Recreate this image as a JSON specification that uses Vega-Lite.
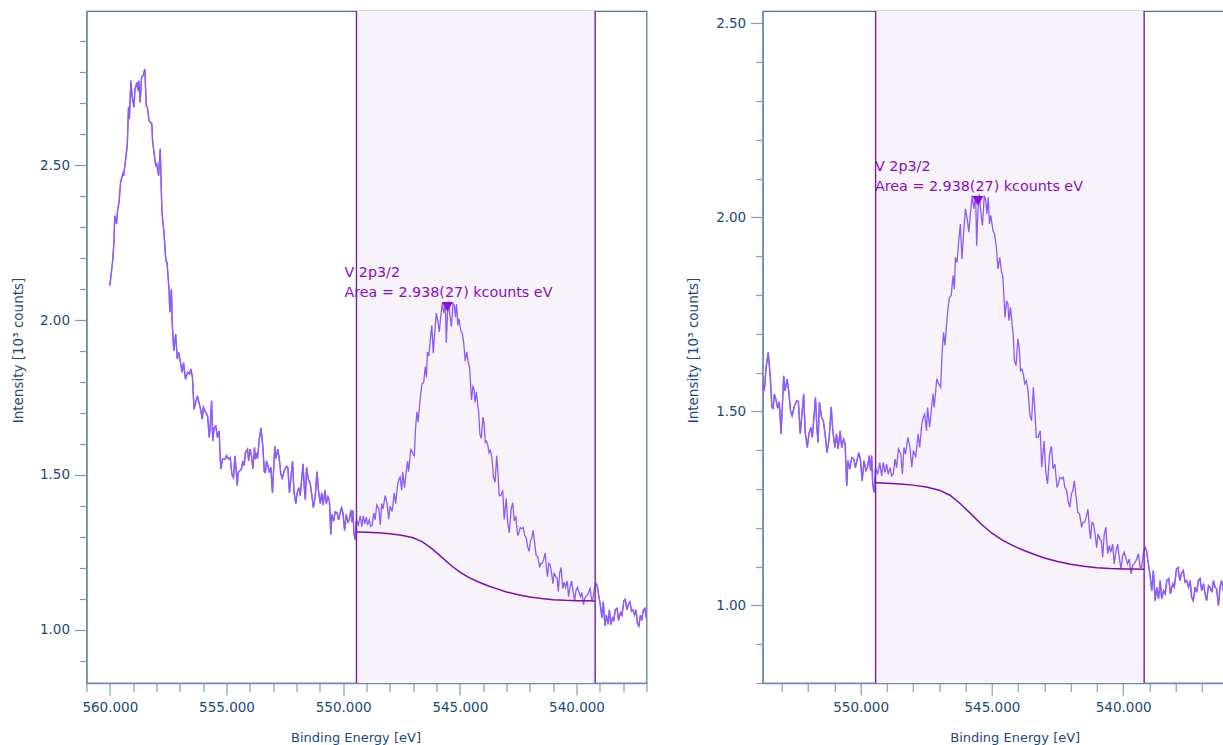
{
  "$schema": "https://vega.github.io/schema/vega-lite/v6.json",
  "padding": {"left": 10.5, "top": 9, "right": 0, "bottom": 0},
  "background": "white",
  "spacing": 37.2,
  "config": {
    "view": {"stroke": "#4f7294", "strokeWidth": 1.2},
    "axis": {
      "labelFont": "DejaVu Sans", "labelFontSize": 13.5, "labelColor": "#1b4a78",
      "titleFont": "DejaVu Sans", "titleFontSize": 13, "titleFontWeight": "normal", "titleColor": "#1b4a78",
      "domainColor": "#6a8cae", "domainWidth": 1.3, "tickColor": "#7f9dbb", "tickWidth": 1.2,
      "grid": false, "labelOverlap": false, "labelFlush": false, "labelPadding": 5, "tickCount": 100
    }
  },
  "datasets": {
    "spectrum": [
      {"E":560.00,"I":2.111},{"E":559.88,"I":2.19},{"E":559.82,"I":2.256},{"E":559.79,"I":2.337},{"E":559.71,"I":2.31},
      {"E":559.67,"I":2.353},{"E":559.60,"I":2.385},{"E":559.54,"I":2.445},{"E":559.43,"I":2.477},{"E":559.41,"I":2.466},
      {"E":559.31,"I":2.525},{"E":559.25,"I":2.569},{"E":559.20,"I":2.687},{"E":559.16,"I":2.649},{"E":559.10,"I":2.773},
      {"E":559.04,"I":2.719},{"E":558.96,"I":2.687},{"E":558.93,"I":2.741},{"E":558.84,"I":2.768},{"E":558.79,"I":2.741},
      {"E":558.76,"I":2.773},{"E":558.70,"I":2.703},{"E":558.64,"I":2.784},{"E":558.57,"I":2.79},{"E":558.50,"I":2.811},
      {"E":558.44,"I":2.692},{"E":558.39,"I":2.687},{"E":558.32,"I":2.644},{"E":558.25,"I":2.638},{"E":558.20,"I":2.633},
      {"E":558.17,"I":2.58},{"E":558.10,"I":2.536},{"E":558.03,"I":2.499},{"E":557.99,"I":2.504},{"E":557.91,"I":2.466},
      {"E":557.84,"I":2.553},{"E":557.77,"I":2.353},{"E":557.67,"I":2.272},{"E":557.60,"I":2.192},{"E":557.55,"I":2.186},
      {"E":557.46,"I":2.095},{"E":557.43,"I":2.025},{"E":557.36,"I":2.10},{"E":557.33,"I":1.998},{"E":557.26,"I":1.901},
      {"E":557.18,"I":1.955},{"E":557.11,"I":1.874},{"E":557.05,"I":1.896},{"E":556.96,"I":1.858},{"E":556.90,"I":1.831},
      {"E":556.84,"I":1.863},{"E":556.76,"I":1.809},{"E":556.67,"I":1.831},{"E":556.58,"I":1.826},{"E":556.53,"I":1.842},
      {"E":556.46,"I":1.815},{"E":556.39,"I":1.712},{"E":556.32,"I":1.734},{"E":556.25,"I":1.755},{"E":556.18,"I":1.734},
      {"E":556.11,"I":1.712},{"E":556.04,"I":1.68},{"E":555.99,"I":1.718},{"E":555.89,"I":1.701},{"E":555.81,"I":1.691},
      {"E":555.74,"I":1.621},{"E":555.70,"I":1.653},{"E":555.64,"I":1.739},{"E":555.59,"I":1.61},{"E":555.53,"I":1.653},
      {"E":555.46,"I":1.658},{"E":555.39,"I":1.621},{"E":555.31,"I":1.642},{"E":555.29,"I":1.588},{"E":555.24,"I":1.519},
      {"E":555.17,"I":1.551},{"E":555.07,"I":1.551},{"E":554.99,"I":1.562},{"E":554.91,"I":1.551},{"E":554.84,"I":1.556},
      {"E":554.77,"I":1.502},{"E":554.70,"I":1.491},{"E":554.64,"I":1.562},{"E":554.60,"I":1.53},{"E":554.54,"I":1.465},
      {"E":554.50,"I":1.508},{"E":554.43,"I":1.513},{"E":554.36,"I":1.519},{"E":554.30,"I":1.545},{"E":554.24,"I":1.53},
      {"E":554.19,"I":1.572},{"E":554.10,"I":1.583},{"E":554.05,"I":1.545},{"E":553.99,"I":1.583},{"E":553.93,"I":1.562},
      {"E":553.87,"I":1.519},{"E":553.80,"I":1.588},{"E":553.76,"I":1.551},{"E":553.73,"I":1.571},{"E":553.67,"I":1.553},
      {"E":553.60,"I":1.613},{"E":553.52,"I":1.652},{"E":553.44,"I":1.588},{"E":553.38,"I":1.51},{"E":553.33,"I":1.508},
      {"E":553.29,"I":1.545},{"E":553.23,"I":1.532},{"E":553.16,"I":1.508},{"E":553.10,"I":1.525},{"E":553.03,"I":1.442},
      {"E":552.93,"I":1.592},{"E":552.88,"I":1.553},{"E":552.80,"I":1.583},{"E":552.74,"I":1.553},{"E":552.67,"I":1.502},
      {"E":552.61,"I":1.489},{"E":552.52,"I":1.515},{"E":552.43,"I":1.528},{"E":552.37,"I":1.524},{"E":552.30,"I":1.442},
      {"E":552.24,"I":1.489},{"E":552.17,"I":1.545},{"E":552.11,"I":1.446},{"E":552.03,"I":1.407},{"E":551.97,"I":1.442},
      {"E":551.90,"I":1.459},{"E":551.84,"I":1.433},{"E":551.79,"I":1.476},{"E":551.72,"I":1.536},{"E":551.66,"I":1.45},
      {"E":551.62,"I":1.42},{"E":551.57,"I":1.524},{"E":551.49,"I":1.485},{"E":551.42,"I":1.476},{"E":551.34,"I":1.433},
      {"E":551.28,"I":1.394},{"E":551.20,"I":1.429},{"E":551.12,"I":1.511},{"E":551.06,"I":1.45},{"E":550.98,"I":1.407},
      {"E":550.92,"I":1.442},{"E":550.86,"I":1.403},{"E":550.78,"I":1.45},{"E":550.72,"I":1.407},{"E":550.65,"I":1.429},
      {"E":550.59,"I":1.416},{"E":550.53,"I":1.308},{"E":550.48,"I":1.373},{"E":550.41,"I":1.351},{"E":550.34,"I":1.381},
      {"E":550.26,"I":1.377},{"E":550.20,"I":1.355},{"E":550.14,"I":1.373},{"E":550.07,"I":1.394},{"E":550.01,"I":1.377},
      {"E":549.94,"I":1.321},{"E":549.87,"I":1.373},{"E":549.80,"I":1.347},{"E":549.74,"I":1.355},{"E":549.67,"I":1.386},
      {"E":549.62,"I":1.347},{"E":549.58,"I":1.386},{"E":549.54,"I":1.312},{"E":549.49,"I":1.291},{"E":549.43,"I":1.355},
      {"E":549.35,"I":1.338},{"E":549.27,"I":1.368},{"E":549.20,"I":1.334},{"E":549.14,"I":1.368},{"E":549.07,"I":1.342},
      {"E":549.01,"I":1.364},{"E":548.95,"I":1.338},{"E":548.88,"I":1.355},{"E":548.82,"I":1.334},{"E":548.76,"I":1.338},
      {"E":548.69,"I":1.377},{"E":548.63,"I":1.355},{"E":548.56,"I":1.403},{"E":548.47,"I":1.39},{"E":548.41,"I":1.339},
      {"E":548.35,"I":1.407},{"E":548.29,"I":1.39},{"E":548.20,"I":1.433},{"E":548.12,"I":1.407},{"E":548.05,"I":1.356},
      {"E":547.99,"I":1.399},{"E":547.90,"I":1.382},{"E":547.81,"I":1.442},{"E":547.75,"I":1.407},{"E":547.67,"I":1.467},
      {"E":547.61,"I":1.485},{"E":547.56,"I":1.493},{"E":547.49,"I":1.45},{"E":547.45,"I":1.51},{"E":547.37,"I":1.459},
      {"E":547.30,"I":1.51},{"E":547.24,"I":1.545},{"E":547.20,"I":1.51},{"E":547.15,"I":1.545},{"E":547.10,"I":1.584},
      {"E":547.03,"I":1.571},{"E":546.95,"I":1.562},{"E":546.90,"I":1.648},{"E":546.84,"I":1.704},{"E":546.79,"I":1.67},
      {"E":546.74,"I":1.712},{"E":546.68,"I":1.76},{"E":546.62,"I":1.794},{"E":546.55,"I":1.798},{"E":546.48,"I":1.85},
      {"E":546.43,"I":1.815},{"E":546.39,"I":1.897},{"E":546.33,"I":1.884},{"E":546.26,"I":1.94},{"E":546.20,"I":1.983},
      {"E":546.14,"I":1.893},{"E":546.07,"I":1.966},{"E":546.01,"I":2.022},{"E":545.94,"I":1.996},{"E":545.88,"I":1.962},
      {"E":545.82,"I":2.009},{"E":545.75,"I":2.056},{"E":545.69,"I":2.022},{"E":545.62,"I":2.056},{"E":545.58,"I":1.927},
      {"E":545.53,"I":2.018},{"E":545.48,"I":2.06},{"E":545.43,"I":2.018},{"E":545.36,"I":1.979},{"E":545.29,"I":2.056},
      {"E":545.23,"I":2.043},{"E":545.19,"I":2.009},{"E":545.14,"I":2.052},{"E":545.09,"I":1.983},{"E":545.04,"I":2.005},
      {"E":544.96,"I":1.966},{"E":544.90,"I":1.958},{"E":544.83,"I":1.923},{"E":544.77,"I":1.867},{"E":544.70,"I":1.897},
      {"E":544.64,"I":1.863},{"E":544.58,"I":1.846},{"E":544.50,"I":1.742},{"E":544.44,"I":1.785},{"E":544.39,"I":1.777},
      {"E":544.35,"I":1.734},{"E":544.29,"I":1.768},{"E":544.23,"I":1.725},{"E":544.19,"I":1.70},{"E":544.14,"I":1.631},
      {"E":544.08,"I":1.618},{"E":544.01,"I":1.687},{"E":543.96,"I":1.665},{"E":543.91,"I":1.605},{"E":543.86,"I":1.609},
      {"E":543.80,"I":1.596},{"E":543.75,"I":1.571},{"E":543.69,"I":1.579},{"E":543.62,"I":1.553},{"E":543.56,"I":1.493},
      {"E":543.49,"I":1.476},{"E":543.42,"I":1.562},{"E":543.37,"I":1.51},{"E":543.31,"I":1.433},{"E":543.24,"I":1.433},
      {"E":543.16,"I":1.45},{"E":543.10,"I":1.356},{"E":543.01,"I":1.424},{"E":542.95,"I":1.347},{"E":542.88,"I":1.313},
      {"E":542.80,"I":1.39},{"E":542.73,"I":1.41},{"E":542.67,"I":1.352},{"E":542.60,"I":1.364},{"E":542.52,"I":1.304},
      {"E":542.47,"I":1.313},{"E":542.41,"I":1.33},{"E":542.34,"I":1.326},{"E":542.28,"I":1.33},{"E":542.22,"I":1.304},
      {"E":542.15,"I":1.296},{"E":542.10,"I":1.27},{"E":542.03,"I":1.253},{"E":541.97,"I":1.287},{"E":541.92,"I":1.296},
      {"E":541.86,"I":1.321},{"E":541.79,"I":1.278},{"E":541.73,"I":1.24},{"E":541.66,"I":1.236},{"E":541.58,"I":1.201},
      {"E":541.53,"I":1.214},{"E":541.47,"I":1.214},{"E":541.41,"I":1.227},{"E":541.34,"I":1.248},{"E":541.28,"I":1.193},
      {"E":541.24,"I":1.171},{"E":541.19,"I":1.214},{"E":541.13,"I":1.21},{"E":541.07,"I":1.184},{"E":541.01,"I":1.149},
      {"E":540.96,"I":1.184},{"E":540.89,"I":1.171},{"E":540.83,"I":1.167},{"E":540.78,"I":1.124},{"E":540.72,"I":1.184},
      {"E":540.66,"I":1.201},{"E":540.59,"I":1.133},{"E":540.53,"I":1.154},{"E":540.47,"I":1.137},{"E":540.40,"I":1.158},
      {"E":540.34,"I":1.107},{"E":540.27,"I":1.141},{"E":540.21,"I":1.158},{"E":540.15,"I":1.124},{"E":540.08,"I":1.094},
      {"E":540.02,"I":1.128},{"E":539.96,"I":1.137},{"E":539.89,"I":1.12},{"E":539.83,"I":1.107},{"E":539.77,"I":1.12},
      {"E":539.70,"I":1.081},{"E":539.64,"I":1.103},{"E":539.58,"I":1.107},{"E":539.51,"I":1.115},{"E":539.42,"I":1.133},
      {"E":539.35,"I":1.098},{"E":539.30,"I":1.098},{"E":539.22,"I":1.137},{"E":539.17,"I":1.15},{"E":539.11,"I":1.141},
      {"E":539.04,"I":1.107},{"E":538.98,"I":1.081},{"E":538.91,"I":1.038},{"E":538.85,"I":1.09},{"E":538.78,"I":1.012},
      {"E":538.72,"I":1.047},{"E":538.65,"I":1.017},{"E":538.59,"I":1.064},{"E":538.53,"I":1.017},{"E":538.46,"I":1.038},
      {"E":538.40,"I":1.03},{"E":538.34,"I":1.064},{"E":538.26,"I":1.069},{"E":538.20,"I":1.03},{"E":538.11,"I":1.056},
      {"E":538.05,"I":1.047},{"E":537.97,"I":1.094},{"E":537.91,"I":1.098},{"E":537.84,"I":1.064},{"E":537.78,"I":1.081},
      {"E":537.71,"I":1.09},{"E":537.64,"I":1.06},{"E":537.58,"I":1.064},{"E":537.51,"I":1.047},{"E":537.45,"I":1.064},
      {"E":537.39,"I":1.021},{"E":537.33,"I":1.012},{"E":537.26,"I":1.047},{"E":537.20,"I":1.034},{"E":537.13,"I":1.064},
      {"E":537.07,"I":1.069},{"E":537.01,"I":1.038},{"E":536.94,"I":1.056},{"E":536.88,"I":1.03},{"E":536.82,"I":1.012},
      {"E":536.75,"I":1.051},{"E":536.69,"I":1.047},{"E":536.62,"I":1.034},{"E":536.56,"I":1.064},{"E":536.50,"I":1.047},
      {"E":536.44,"I":1.043},{"E":536.37,"I":0.999},{"E":536.31,"I":1.047},{"E":536.25,"I":1.064},{"E":536.18,"I":1.038},
      {"E":536.12,"I":1.05}
    ],
    "background": [
      {"E":549.43,"I":1.316},{"E":549.0,"I":1.315},{"E":548.5,"I":1.313},{"E":548.0,"I":1.310},{"E":547.5,"I":1.305},
      {"E":547.0,"I":1.297},{"E":546.6,"I":1.284},{"E":546.2,"I":1.262},{"E":545.8,"I":1.236},{"E":545.4,"I":1.209},
      {"E":545.0,"I":1.186},{"E":544.6,"I":1.168},{"E":544.2,"I":1.154},{"E":543.8,"I":1.142},{"E":543.4,"I":1.132},
      {"E":543.0,"I":1.122},{"E":542.5,"I":1.113},{"E":542.0,"I":1.106},{"E":541.5,"I":1.101},{"E":541.0,"I":1.097},
      {"E":540.5,"I":1.095},{"E":540.0,"I":1.094},{"E":539.6,"I":1.094},{"E":539.2,"I":1.093}
    ],
    "region": [{"E":549.43,"E2":539.2}],
    "bounds": [{"E":549.43},{"E":539.2}],
    "peak": [{"E":545.53,"I":2.043,"label":"V 2p3/2\nArea = 2.938(27) kcounts eV"}]
  },
  "hconcat": [
    {
      "width": 560, "height": 672,
      "resolve": {"axis": {"x": "independent", "y": "independent"}},
      "layer": [
        {"data": {"name": "spectrum"}, "mark": {"type": "line", "color": "#8b5cf6", "strokeWidth": 1.3, "clip": true},
         "encoding": {
           "x": {"field": "E", "type": "quantitative", "scale": {"domain": [537, 561], "reverse": true, "nice": false, "zero": false},
                 "axis": {"orient": "bottom", "values": [540,545,550,555,560], "format": ".3f", "tickSize": 12,
                          "title": "Binding Energy [eV]", "titleX": 269, "titleY": 58, "titleBaseline": "alphabetic", "titleAlign": "center"}},
           "y": {"field": "I", "type": "quantitative", "scale": {"domain": [0.828, 2.998], "nice": false, "zero": false},
                 "axis": {"orient": "left", "values": [1.0,1.5,2.0,2.5], "format": ".2f", "tickSize": 12,
                          "title": "Intensity [10³ counts]", "titleFontSize": 13.5, "titleX": -68, "titleY": 339, "titleBaseline": "middle", "titleAlign": "center"}}
         }},
        {"data": {"name": "region"}, "mark": {"type": "rect", "color": "#f8f2fa", "clip": true},
         "encoding": {"x": {"field": "E", "type": "quantitative", "axis": null}, "x2": {"field": "E2"}}},
        {"data": {"name": "spectrum"}, "mark": {"type": "line", "color": "#8b5cf6", "strokeWidth": 1.3, "clip": true},
         "encoding": {"x": {"field": "E", "type": "quantitative", "axis": null}, "y": {"field": "I", "type": "quantitative", "axis": null}}},
        {"data": {"name": "background"}, "mark": {"type": "line", "color": "#7a10a8", "strokeWidth": 1.5},
         "encoding": {
           "x": {"field": "E", "type": "quantitative",
                 "axis": {"orient": "bottom", "values": [537,538,539,541,542,543,544,546,547,548,549,551,552,553,554,556,557,558,559,561],
                          "labels": false, "domain": false, "title": null, "tickSize": 8.5}},
           "y": {"field": "I", "type": "quantitative",
                 "axis": {"orient": "left", "values": [0.9,1.1,1.2,1.3,1.4,1.6,1.7,1.8,1.9,2.1,2.2,2.3,2.4,2.6,2.7,2.8,2.9],
                          "labels": false, "domain": false, "title": null, "tickSize": 7}}}},
        {"data": {"name": "bounds"}, "mark": {"type": "rule", "color": "#7b1fa2", "strokeWidth": 1.4},
         "encoding": {"x": {"field": "E", "type": "quantitative", "axis": null}}},
        {"data": {"name": "peak"}, "mark": {"type": "point", "shape": "triangle-down", "filled": true, "size": 125, "color": "#8b0fd1", "opacity": 1},
         "encoding": {"x": {"field": "E", "type": "quantitative", "axis": null}, "y": {"field": "I", "type": "quantitative", "axis": null}}},
        {"data": {"name": "peak"}, "mark": {"type": "text", "align": "left", "baseline": "alphabetic", "dx": -103, "dy": -30, "lineBreak": "\n", "lineHeight": 20, "font": "DejaVu Sans", "fontSize": 14.3, "color": "#8410b8"},
         "encoding": {"x": {"field": "E", "type": "quantitative", "axis": null}, "y": {"field": "I", "type": "quantitative", "axis": null}, "text": {"field": "label"}}}
      ]
    },
    {
      "width": 461, "height": 672,
      "resolve": {"axis": {"x": "independent", "y": "independent"}},
      "layer": [
        {"data": {"name": "spectrum"}, "mark": {"type": "line", "color": "#8b5cf6", "strokeWidth": 1.3, "clip": true},
         "encoding": {
           "x": {"field": "E", "type": "quantitative", "scale": {"domain": [536.17, 553.73], "reverse": true, "nice": false, "zero": false},
                 "axis": {"orient": "bottom", "values": [540,545,550], "format": ".3f", "tickSize": 12,
                          "title": "Binding Energy [eV]", "titleX": 252, "titleY": 58, "titleBaseline": "alphabetic", "titleAlign": "center"}},
           "y": {"field": "I", "type": "quantitative", "scale": {"domain": [0.8, 2.532], "nice": false, "zero": false},
                 "axis": {"orient": "left", "values": [1.0,1.5,2.0,2.5], "format": ".2f", "tickSize": 12,
                          "title": "Intensity [10³ counts]", "titleFontSize": 13.5, "titleX": -69, "titleY": 339, "titleBaseline": "middle", "titleAlign": "center"}}
         }},
        {"data": {"name": "region"}, "mark": {"type": "rect", "color": "#f8f2fa", "clip": true},
         "encoding": {"x": {"field": "E", "type": "quantitative", "axis": null}, "x2": {"field": "E2"}}},
        {"data": {"name": "spectrum"}, "mark": {"type": "line", "color": "#8b5cf6", "strokeWidth": 1.3, "clip": true},
         "encoding": {"x": {"field": "E", "type": "quantitative", "axis": null}, "y": {"field": "I", "type": "quantitative", "axis": null}}},
        {"data": {"name": "background"}, "mark": {"type": "line", "color": "#7a10a8", "strokeWidth": 1.5},
         "encoding": {
           "x": {"field": "E", "type": "quantitative",
                 "axis": {"orient": "bottom", "values": [537,538,539,541,542,543,544,546,547,548,549,551,552,553],
                          "labels": false, "domain": false, "title": null, "tickSize": 8.5}},
           "y": {"field": "I", "type": "quantitative",
                 "axis": {"orient": "left", "values": [0.8,0.9,1.1,1.2,1.3,1.4,1.6,1.7,1.8,1.9,2.1,2.2,2.3,2.4],
                          "labels": false, "domain": false, "title": null, "tickSize": 7}}}},
        {"data": {"name": "bounds"}, "mark": {"type": "rule", "color": "#7b1fa2", "strokeWidth": 1.4},
         "encoding": {"x": {"field": "E", "type": "quantitative", "axis": null}}},
        {"data": {"name": "peak"}, "mark": {"type": "point", "shape": "triangle-down", "filled": true, "size": 125, "color": "#8b0fd1", "opacity": 1},
         "encoding": {"x": {"field": "E", "type": "quantitative", "axis": null}, "y": {"field": "I", "type": "quantitative", "axis": null}}},
        {"data": {"name": "peak"}, "mark": {"type": "text", "align": "left", "baseline": "alphabetic", "dx": -103, "dy": -30, "lineBreak": "\n", "lineHeight": 20, "font": "DejaVu Sans", "fontSize": 14.3, "color": "#8410b8"},
         "encoding": {"x": {"field": "E", "type": "quantitative", "axis": null}, "y": {"field": "I", "type": "quantitative", "axis": null}, "text": {"field": "label"}}}
      ]
    }
  ]
}
